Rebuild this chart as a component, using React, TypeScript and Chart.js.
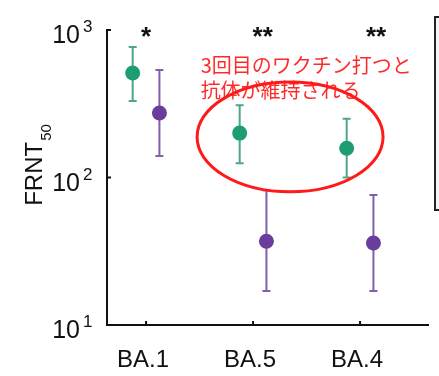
import React, { useEffect, useRef } from "react";
import { Chart, registerables } from "chart.js";

Chart.register(...registerables);

// ---- data ----
const categories = ["BA.1", "BA.5", "BA.4"];
const categoryX = [1, 2, 3];
const seriesOffset = 0.125;
const greenMean = [511, 200, 158];
const greenLow = [330, 125, 100];
const greenHigh = [767, 309, 250];
const purpleMean = [274, 37, 36];
const purpleLow = [140, 17, 17];
const purpleHigh = [535, 82, 76];
const significance = ["*", "**", "**"];
const significanceX = [1.0, 2.09, 3.15];
const yTickExponents = [1, 2, 3];
const annotationLines = ["3回目のワクチン打つと", "抗体が維持される"];
const annotationTextX = 1.51;
const annotationTextY = [579, 392];
const ellipseX = [1.477, 3.215];
const ellipseY = [80, 444];

const GREEN = "#1e9d74";
const GREEN_BAR = "#4ea588";
const PURPLE = "#6a3c9c";
const PURPLE_BAR = "#8060ab";
const FONT = "'Liberation Sans', Arial, sans-serif";

export default function App() {
  const ref = useRef<HTMLCanvasElement | null>(null);

  useEffect(() => {
    const canvas = ref.current;
    if (!canvas) return;

    const overlay = {
      id: "overlay",
      beforeDatasetsDraw(chart: any) {
        const ctx = chart.ctx;
        const xs = chart.scales.x;
        const ys = chart.scales.y;
        const drawBars = (dx: number, lo: number[], hi: number[], color: string) => {
          ctx.save();
          ctx.strokeStyle = color;
          ctx.lineWidth = 2;
          for (let i = 0; i < categoryX.length; i++) {
            const x = xs.getPixelForValue(categoryX[i] + dx);
            const y1 = ys.getPixelForValue(lo[i]);
            const y2 = ys.getPixelForValue(hi[i]);
            ctx.beginPath();
            ctx.moveTo(x, y1);
            ctx.lineTo(x, y2);
            ctx.moveTo(x - 4, y1);
            ctx.lineTo(x + 4, y1);
            ctx.moveTo(x - 4, y2);
            ctx.lineTo(x + 4, y2);
            ctx.stroke();
          }
          ctx.restore();
        };
        drawBars(-seriesOffset, greenLow, greenHigh, GREEN_BAR);
        drawBars(seriesOffset, purpleLow, purpleHigh, PURPLE_BAR);
      },
      afterDraw(chart: any) {
        const ctx = chart.ctx;
        const xs = chart.scales.x;
        const ys = chart.scales.y;
        const area = chart.chartArea;
        ctx.save();
        ctx.fillStyle = "#111";
        ctx.strokeStyle = "#111";
        ctx.lineWidth = 2;

        // inward tick marks
        ctx.beginPath();
        for (const e of yTickExponents) {
          const y = ys.getPixelForValue(Math.pow(10, e));
          ctx.moveTo(area.left, y);
          ctx.lineTo(area.left + 4, y);
        }
        for (const c of categoryX) {
          const x = xs.getPixelForValue(c);
          ctx.moveTo(x, area.bottom);
          ctx.lineTo(x, area.bottom - 4);
        }
        ctx.stroke();

        // y tick labels 10^n
        for (const e of yTickExponents) {
          const y = ys.getPixelForValue(Math.pow(10, e));
          ctx.font = `25px ${FONT}`;
          ctx.textAlign = "right";
          ctx.textBaseline = "alphabetic";
          ctx.fillText("10", area.left - 27, y + 13);
          ctx.font = `17px ${FONT}`;
          ctx.textAlign = "left";
          ctx.fillText(String(e), area.left - 24, y + 2);
        }

        // y title FRNT50
        ctx.save();
        ctx.font = `24px ${FONT}`;
        const w1 = ctx.measureText("FRNT").width;
        ctx.font = `15px ${FONT}`;
        const w2 = ctx.measureText("50").width;
        const midY = (area.top + area.bottom) / 2 - 12;
        ctx.translate(42, midY + (w1 + w2) / 2);
        ctx.rotate(-Math.PI / 2);
        ctx.textAlign = "left";
        ctx.textBaseline = "alphabetic";
        ctx.font = `24px ${FONT}`;
        ctx.fillText("FRNT", 0, 0);
        ctx.font = `15px ${FONT}`;
        ctx.fillText("50", w1 + 1, 9);
        ctx.restore();

        // x category labels
        ctx.font = `24px ${FONT}`;
        ctx.textAlign = "center";
        ctx.textBaseline = "alphabetic";
        for (let i = 0; i < categories.length; i++) {
          const x = xs.getPixelForValue(categoryX[i]) - 3;
          ctx.fillText(categories[i], x, area.bottom + 42);
        }

        // significance stars
        ctx.font = `bold 26px ${FONT}`;
        for (let i = 0; i < significance.length; i++) {
          const x = xs.getPixelForValue(significanceX[i]);
          ctx.fillText(significance[i], x, area.top + 15);
        }

        // annotation text
        ctx.fillStyle = "#ff2b2b";
        ctx.font = `20px 'Noto Sans CJK JP', sans-serif`;
        ctx.textAlign = "left";
        ctx.textBaseline = "middle";
        for (let i = 0; i < annotationLines.length; i++) {
          ctx.fillText(
            annotationLines[i],
            xs.getPixelForValue(annotationTextX),
            ys.getPixelForValue(annotationTextY[i])
          );
        }

        // annotation ellipse
        const ex1 = xs.getPixelForValue(ellipseX[0]);
        const ex2 = xs.getPixelForValue(ellipseX[1]);
        const ey1 = ys.getPixelForValue(ellipseY[0]);
        const ey2 = ys.getPixelForValue(ellipseY[1]);
        ctx.strokeStyle = "#ff1a1a";
        ctx.lineWidth = 3;
        ctx.beginPath();
        ctx.ellipse(
          (ex1 + ex2) / 2,
          (ey1 + ey2) / 2,
          Math.abs(ex2 - ex1) / 2,
          Math.abs(ey1 - ey2) / 2,
          0,
          0,
          Math.PI * 2
        );
        ctx.stroke();

        // cropped legend box at right edge
        ctx.fillStyle = "#f3f5f9";
        ctx.strokeStyle = "#222";
        ctx.lineWidth = 2;
        ctx.fillRect(435, 17, 20, 193);
        ctx.strokeRect(435, 17, 20, 193);
        ctx.restore();
      },
    };

    const chart = new Chart(canvas, {
      type: "scatter",
      data: {
        datasets: [
          {
            label: "green",
            data: categoryX.map((c, i) => ({ x: c - seriesOffset, y: greenMean[i] })),
            backgroundColor: GREEN,
            borderWidth: 0,
            pointRadius: 7.5,
          },
          {
            label: "purple",
            data: categoryX.map((c, i) => ({ x: c + seriesOffset, y: purpleMean[i] })),
            backgroundColor: PURPLE,
            borderWidth: 0,
            pointRadius: 7.5,
          },
        ],
      },
      options: {
        responsive: false,
        animation: false,
        layout: { padding: { left: 107, top: 30, right: 11, bottom: 51 } },
        plugins: { legend: { display: false }, tooltip: { enabled: false } },
        scales: {
          x: {
            type: "linear",
            min: 0.635,
            max: 3.635,
            grid: { display: false, drawTicks: false },
            border: { display: true, color: "#111", width: 2 },
            ticks: { display: false },
          },
          y: {
            type: "logarithmic",
            min: 10,
            max: 1000,
            grid: { display: false, drawTicks: false },
            border: { display: true, color: "#111", width: 2 },
            ticks: { display: false },
          },
        },
      },
      plugins: [overlay],
    });
    return () => chart.destroy();
  }, []);

  return (
    <div style={{ position: "fixed", left: 0, top: 0, width: 439, height: 376, background: "#fff" }}>
      <canvas ref={ref} width={439} height={376} style={{ display: "block" }} />
    </div>
  );
}
